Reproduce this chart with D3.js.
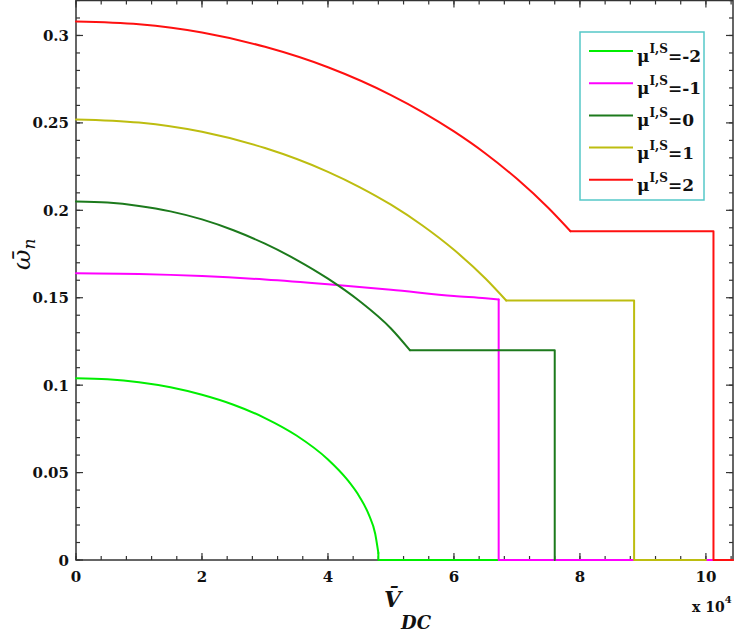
<!DOCTYPE html>
<html><head><meta charset="utf-8">
<script src="https://cdn.jsdelivr.net/npm/d3@7"></script>
<style>
html,body{margin:0;padding:0;background:#fff;}
svg{display:block;}
</style></head>
<body>
<svg id="chart" width="740" height="633"></svg>
<script>
// ---- data (V in units of 1e4, omega normalized) ----
const legendLabels = ["-2", "-1", "0", "1", "2"];
const seriesColors = ["#00ee00", "#ff00ff", "#1c7a1c", "#bdbd10", "#ff1010"];

const vMuM2 = [0, 0.5, 1, 1.5, 2, 2.5, 3, 3.5, 4, 4.3, 4.5, 4.65, 4.75, 4.8, 4.8, 6.7];
const wMuM2 = [0.104, 0.1034, 0.1017, 0.0988, 0.0945, 0.0888, 0.0812, 0.0712, 0.0575, 0.0462, 0.0362, 0.0258, 0.015, 0.004, 0, 0];

const vMuM1 = [0, 1, 2, 3, 4, 5, 6, 6.5, 6.71, 6.71, 10.12];
const wMuM1 = [0.164, 0.1636, 0.1624, 0.1604, 0.1577, 0.1546, 0.151, 0.1497, 0.149, 0, 0];

const vMu0 = [0, 0.5, 1, 1.5, 2, 2.5, 3, 3.5, 4, 4.5, 5, 5.3, 7.6, 7.6];
const wMu0 = [0.205, 0.2044, 0.2025, 0.1994, 0.1948, 0.1886, 0.1809, 0.1717, 0.1609, 0.1481, 0.1324, 0.120, 0.120, 0];

const vMu1 = [0, 1, 2, 3, 4, 4.5, 5, 5.5, 6, 6.5, 6.83, 8.86, 8.86, 10.0];
const wMu1 = [0.252, 0.2502, 0.2449, 0.2356, 0.222, 0.2133, 0.2032, 0.1913, 0.1774, 0.161, 0.1484, 0.1484, 0, 0];

const vMu2 = [0, 1, 2, 3, 4, 5, 5.5, 6, 6.5, 7, 7.5, 7.85, 10.12, 10.12, 10.43];
const wMu2 = [0.308, 0.3064, 0.3017, 0.2935, 0.2818, 0.2659, 0.2562, 0.2451, 0.2325, 0.218, 0.2013, 0.188, 0.188, 0, 0];

const xTicks = [0, 2, 4, 6, 8, 10];
const xTickLabels = ["0", "2", "4", "6", "8", "10"];
const yTicks = [0, 0.05, 0.1, 0.15, 0.2, 0.25, 0.3];
const yTickLabels = ["0", "0.05", "0.1", "0.15", "0.2", "0.25", "0.3"];

// ---- layout ----
const svg = d3.select("#chart");
const L = 76, R = 733, T = 0.5, B = 560;
const x = d3.scaleLinear().domain([0, 10.43]).range([L, R]);
const y = d3.scaleLinear().domain([0, 0.32]).range([B, T]);

const axisColor = "#333";
const g = svg.append("g");

// minor/major ticks (inward, mirrored)
const xMinor = d3.range(0, 10.43, 0.4);
const yMinor = d3.range(0, 0.3201, 0.01);
function tick(x1, y1, x2, y2) {
  g.append("line").attr("x1", x1).attr("y1", y1).attr("x2", x2).attr("y2", y2)
    .attr("stroke", axisColor).attr("stroke-width", 1.2);
}
xMinor.forEach(v => { tick(x(v), B, x(v), B - 4); tick(x(v), T, x(v), T + 4); });
xTicks.forEach(v => { tick(x(v), B, x(v), B - 7); tick(x(v), T, x(v), T + 7); });
yMinor.forEach(v => { tick(L, y(v), L + 4, y(v)); tick(R, y(v), R - 4, y(v)); });
yTicks.forEach(v => { tick(L, y(v), L + 7, y(v)); tick(R, y(v), R - 7, y(v)); });

// frame
g.append("rect").attr("x", L).attr("y", T).attr("width", R - L).attr("height", B - T)
  .attr("fill", "none").attr("stroke", axisColor).attr("stroke-width", 1.5);

// tick labels
const tickFont = "'DejaVu Serif', serif";
xTicks.forEach((v, i) => {
  svg.append("text").attr("x", x(v)).attr("y", 582).attr("text-anchor", "middle")
    .attr("font-family", tickFont).attr("font-weight", "bold").attr("font-size", 15)
    .attr("fill", "#111").text(xTickLabels[i]);
});
yTicks.forEach((v, i) => {
  svg.append("text").attr("x", 69).attr("y", y(v) + 5.5).attr("text-anchor", "end")
    .attr("font-family", tickFont).attr("font-weight", "bold").attr("font-size", 15)
    .attr("fill", "#111").text(yTickLabels[i]);
});

// exponent
const ex = svg.append("text").attr("x", 692).attr("y", 612)
  .attr("font-family", tickFont).attr("font-weight", "bold").attr("font-size", 14).attr("fill", "#111");
ex.append("tspan").text("x 10");
ex.append("tspan").attr("dy", -9).attr("font-size", 10).text("4");

// x axis label: V-bar sub DC
const xl = svg.append("text").attr("x", 384).attr("y", 607)
  .attr("font-family", "'DejaVu Serif', serif").attr("font-weight", "bold").attr("font-style", "italic")
  .attr("font-size", 22).attr("fill", "#111");
xl.append("tspan").text("V\u0304");
xl.append("tspan").attr("dy", 22).attr("font-size", 18).text("DC");

// y axis label: omega-bar sub n, rotated
const yl = svg.append("text").attr("transform", "translate(30,270) rotate(-90)")
  .attr("font-family", "'DejaVu Serif', serif").attr("font-style", "italic")
  .attr("font-size", 25).attr("fill", "#111");
yl.append("tspan").text("\u03C9\u0304");
yl.append("tspan").attr("dy", 5).attr("font-size", 17).text("n");

// series: smooth part (before first horizontal/vertical step) + straight step part
const seriesV = [vMuM2, vMuM1, vMu0, vMu1, vMu2];
const seriesW = [wMuM2, wMuM1, wMu0, wMu1, wMu2];
const smoothLine = d3.line().x(d => x(d[0])).y(d => y(d[1])).curve(d3.curveMonotoneX);
const stepLine = d3.line().x(d => x(d[0])).y(d => y(d[1]));
seriesV.forEach((vs, i) => {
  const ws = seriesW[i];
  const pts = vs.map((v, j) => [v, ws[j]]);
  let k = pts.length - 1;
  for (let j = 0; j < pts.length - 1; j++) {
    if (pts[j + 1][0] === pts[j][0] || pts[j + 1][1] === pts[j][1]) { k = j; break; }
  }
  const col = seriesColors[i];
  svg.append("path").attr("d", smoothLine(pts.slice(0, k + 1))).attr("fill", "none")
    .attr("stroke", col).attr("stroke-width", 2).attr("stroke-linecap", "round");
  svg.append("path").attr("d", stepLine(pts.slice(k))).attr("fill", "none")
    .attr("stroke", col).attr("stroke-width", 2).attr("stroke-linejoin", "round").attr("stroke-linecap", "round");
});

// legend
const lg = svg.append("g");
lg.append("rect").attr("x", 580).attr("y", 32).attr("width", 124).attr("height", 168)
  .attr("fill", "#fff").attr("stroke", "#55c8c8").attr("stroke-width", 1.5);
legendLabels.forEach((lab, i) => {
  const yy = 51 + i * 32.2;
  lg.append("line").attr("x1", 589).attr("x2", 633).attr("y1", yy).attr("y2", yy)
    .attr("stroke", seriesColors[i]).attr("stroke-width", 2);
  const t = lg.append("text").attr("x", 637).attr("y", yy + 11)
    .attr("font-family", "'DejaVu Serif', serif").attr("font-weight", "bold")
    .attr("font-size", 17).attr("fill", "#111");
  t.append("tspan").text("\u03BC");
  t.append("tspan").attr("dy", -9).attr("font-size", 12).text("I,S");
  t.append("tspan").attr("dy", 9).text("=" + lab);
});
</script>
</body></html>
